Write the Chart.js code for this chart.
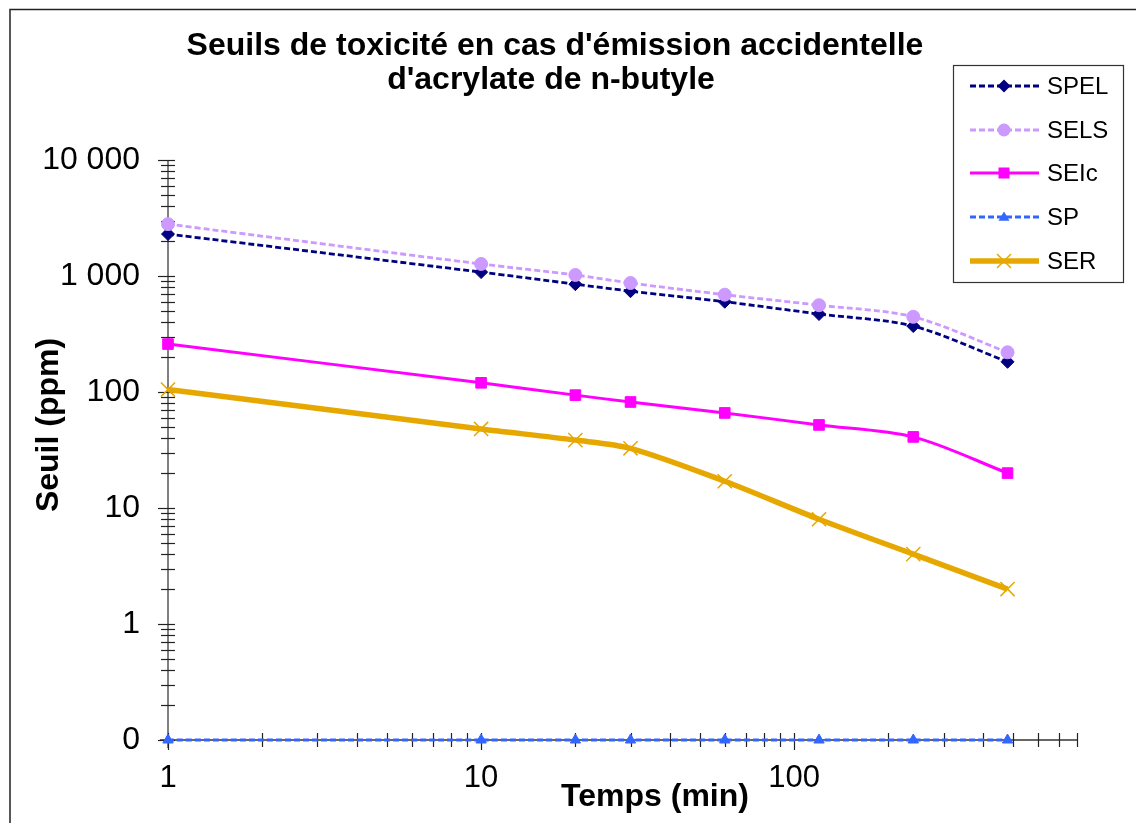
<!DOCTYPE html>
<html>
<head>
<meta charset="utf-8">
<script src="https://cdn.jsdelivr.net/npm/chart.js@4/dist/chart.umd.min.js"></script>
<style>
html,body{margin:0;padding:0;background:#fff;}
canvas{display:block;}
</style>
</head>
<body>
<canvas id="c" width="1136" height="823"></canvas>
<script>
// ---- data ----
const times = [1, 10, 20, 30, 60, 120, 240, 480];
const SPEL = [2300, 1080, 850, 740, 600, 470, 370, 182];
const SELS = [2800, 1270, 1020, 870, 690, 560, 445, 220];
const SEIc = [259, 120, 94, 82, 66, 52, 41, 20];
const SP   = [0.1, 0.1, 0.1, 0.1, 0.1, 0.1, 0.1, 0.1];
const SER  = [105, 48, 38.5, 32.7, 17, 8, 4, 2];

const seriesNames = ["SPEL", "SELS", "SEIc", "SP", "SER"];
const titleLines = ["Seuils de toxicité en cas d'émission accidentelle", "d'acrylate de n-butyle"];
const xTitle = "Temps (min)";
const yTitle = "Seuil (ppm)";

const yMajor = [0.1, 1, 10, 100, 1000, 10000];
const yTickLabels = ["0", "1", "10", "100", "1 000", "10 000"];
const xMajor = [1, 10, 100];
const xTickLabels = ["1", "10", "100"];
const minorMult = [1, 2, 3, 4, 5, 6, 7, 8, 9];

function logTicks(min, max) {
  const out = [];
  for (let e = Math.floor(Math.log10(min)); e <= Math.ceil(Math.log10(max)); e++) {
    for (const m of minorMult) {
      const v = Number((m * Math.pow(10, e)).toPrecision(4));
      if (v >= min - 1e-9 && v <= max + 1e-9) out.push(v);
    }
  }
  return out;
}
const yTickValues = logTicks(0.1, 10000);
const xTickValues = logTicks(1, 800);

function pts(vals) { return times.map((t, i) => ({x: t, y: vals[i]})); }
function isMajorIn(list, v) { return list.some(m => Math.abs(m - v) / m < 1e-6); }

const styles = [
  {color: '#000080', dash: [6, 3], width: 2.8, point: 'rectRot', r: 6.5, pbw: 1, lr: 6.5},
  {color: '#CC99FF', dash: [6, 3], width: 2.8, point: 'circle', r: 6.5, pbw: 1, lr: 6.5},
  {color: '#FF00FF', dash: [], width: 3, point: 'rect', r: 7.5, pbw: 1, lr: 5.5},
  {color: '#3366FF', dash: [6, 3], width: 2.8, point: 'triangle', r: 6, pbw: 1, lr: 5.5},
  {color: '#E6A800', dash: [], width: 5.5, point: 'crossRot', r: 10, pbw: 1.5, lr: 7}
];
const seriesData = [SPEL, SELS, SEIc, SP, SER];

const datasets = seriesData.map((vals, i) => ({
  label: seriesNames[i],
  data: pts(vals),
  borderColor: styles[i].color,
  backgroundColor: styles[i].color,
  borderWidth: styles[i].width,
  borderDash: styles[i].dash,
  pointStyle: styles[i].point,
  pointRadius: styles[i].r,
  pointHoverRadius: styles[i].r,
  pointBorderWidth: styles[i].pbw,
  pointBorderColor: styles[i].color,
  pointBackgroundColor: styles[i].color,
  tension: 0.3,
  clip: false,
  order: 5 - i
}));

const FONT = "'Liberation Sans', Arial, sans-serif";

const decor = {
  id: 'decor',
  beforeDatasetsDraw(chart) {
    const ctx = chart.ctx, a = chart.chartArea;
    const xs = chart.scales.x, ys = chart.scales.y;
    ctx.save();
    ctx.strokeStyle = '#808080';
    ctx.lineWidth = 2;
    ctx.beginPath();
    ctx.moveTo(a.left, a.top); ctx.lineTo(a.left, a.bottom + 8);
    ctx.stroke();
    ctx.strokeStyle = '#333';
    ctx.lineWidth = 1.5;
    ctx.beginPath();
    ctx.moveTo(a.left - 8, a.bottom); ctx.lineTo(a.right, a.bottom);
    ctx.stroke();
    ctx.strokeStyle = '#222';
    ctx.lineWidth = 1.2;
    for (const v of yTickValues) {
      const py = Math.round(ys.getPixelForValue(v)) + 0.5;
      const maj = isMajorIn(yMajor, v);
      ctx.beginPath();
      ctx.moveTo(a.left - (maj ? 10 : 7), py);
      ctx.lineTo(a.left + 7, py);
      ctx.stroke();
    }
    for (const v of xTickValues) {
      const px = Math.round(xs.getPixelForValue(v)) + 0.5;
      const maj = isMajorIn(xMajor, v);
      ctx.beginPath();
      ctx.moveTo(px, a.bottom - 7);
      ctx.lineTo(px, a.bottom + (maj ? 10 : 7));
      ctx.stroke();
    }
    ctx.restore();
  },
  afterDraw(chart) {
    const ctx = chart.ctx;
    ctx.save();
    ctx.strokeStyle = '#222';
    ctx.lineWidth = 1.5;
    ctx.beginPath();
    ctx.moveTo(10, 823); ctx.lineTo(10, 9.5); ctx.lineTo(1136, 9.5);
    ctx.stroke();
    ctx.fillStyle = '#000';
    ctx.textAlign = 'center';
    ctx.textBaseline = 'middle';
    ctx.font = 'bold 32px ' + FONT;
    ctx.fillText(titleLines[0], 555, 46);
    ctx.fillText(titleLines[1], 551, 80);
    ctx.font = 'bold 32px ' + FONT;
    ctx.fillText(xTitle, 655, 797);
    ctx.save();
    ctx.translate(49, 425);
    ctx.rotate(-Math.PI / 2);
    ctx.fillText(yTitle, 0, 0);
    ctx.restore();
    ctx.strokeStyle = '#333';
    ctx.lineWidth = 1.2;
    ctx.strokeRect(953.5, 65.5, 170, 217);
    const ly = [86, 130, 173, 217, 261];
    ctx.font = '24px ' + FONT;
    ctx.textAlign = 'left';
    for (let i = 0; i < seriesNames.length; i++) {
      const s = styles[i], y = ly[i];
      ctx.strokeStyle = s.color;
      ctx.fillStyle = s.color;
      ctx.lineWidth = s.width;
      ctx.setLineDash(s.dash);
      ctx.beginPath();
      ctx.moveTo(970, y); ctx.lineTo(1039, y);
      ctx.stroke();
      ctx.setLineDash([]);
      const cx = 1004, r = s.lr;
      ctx.beginPath();
      if (s.point === 'rectRot') {
        ctx.moveTo(cx, y - r); ctx.lineTo(cx + r, y); ctx.lineTo(cx, y + r); ctx.lineTo(cx - r, y); ctx.closePath(); ctx.fill();
      } else if (s.point === 'circle') {
        ctx.arc(cx, y, r, 0, Math.PI * 2); ctx.fill();
      } else if (s.point === 'rect') {
        ctx.rect(cx - r, y - r, 2 * r, 2 * r); ctx.fill();
      } else if (s.point === 'triangle') {
        ctx.moveTo(cx, y - r); ctx.lineTo(cx + r, y + r * 0.7); ctx.lineTo(cx - r, y + r * 0.7); ctx.closePath(); ctx.fill();
      } else if (s.point === 'crossRot') {
        const d = r;
        ctx.lineWidth = s.pbw;
        ctx.moveTo(cx - d, y - d); ctx.lineTo(cx + d, y + d);
        ctx.moveTo(cx + d, y - d); ctx.lineTo(cx - d, y + d);
        ctx.stroke();
      }
      ctx.fillStyle = '#000';
      ctx.fillText(seriesNames[i], 1047, y + 1);
    }
    ctx.restore();
  }
};

new Chart(document.getElementById('c'), {
  type: 'line',
  data: {datasets},
  options: {
    responsive: false,
    animation: false,
    devicePixelRatio: 1,
    layout: {padding: {left: 0, right: 59, top: 160, bottom: 0}},
    plugins: {legend: {display: false}, title: {display: false}, tooltip: {enabled: false}},
    scales: {
      x: {
        type: 'logarithmic',
        min: 1, max: 800,
        afterFit(s) { s.height = 83; },
        afterBuildTicks(s) { s.ticks = xTickValues.map(v => ({value: v})); },
        grid: {display: false, drawTicks: false},
        border: {display: false},
        ticks: {
          autoSkip: false, maxRotation: 0, padding: 20,
          color: '#000', font: {family: FONT, size: 31},
          callback(v) { const i = xMajor.findIndex(m => Math.abs(m - v) / m < 1e-6); return i >= 0 ? xTickLabels[i] : ''; }
        }
      },
      y: {
        type: 'logarithmic',
        min: 0.1, max: 10000,
        afterFit(s) { s.width = 168; },
        afterBuildTicks(s) { s.ticks = yTickValues.map(v => ({value: v})); },
        grid: {display: false, drawTicks: false},
        border: {display: false},
        ticks: {
          autoSkip: false, padding: 28,
          color: '#000', font: {family: FONT, size: 32},
          callback(v) { const i = yMajor.findIndex(m => Math.abs(m - v) / m < 1e-6); return i >= 0 ? yTickLabels[i] : ''; }
        }
      }
    }
  },
  plugins: [decor]
});
</script>
</body>
</html>
